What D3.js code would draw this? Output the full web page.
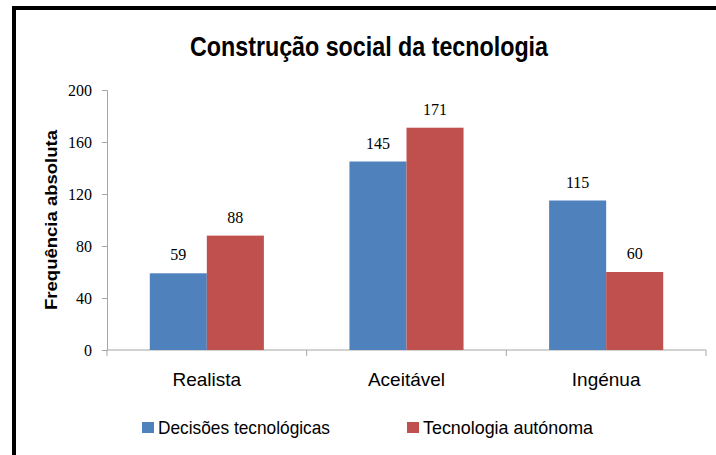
<!DOCTYPE html>
<html>
<head>
<meta charset="utf-8">
<script src="https://cdn.jsdelivr.net/npm/d3@7"></script>
<style>
  body { margin: 0; background: #fff; }
  svg { display: block; }
</style>
</head>
<body>
<svg id="chart"></svg>
<script>
const CATEGORIES = ["Realista", "Aceitável", "Ingénua"];
const SERIES = ["Decisões tecnológicas", "Tecnologia autónoma"];
const DECISOES = [59, 145, 115];
const AUTONOMA = [88, 171, 60];
const Y_TICKS = [0, 40, 80, 120, 160, 200];
const COLORS = ["#4F81BD", "#C0504D"];

const WIDTH = 716;
const HEIGHT = 455;
const SANS = "'Liberation Sans Narrow', 'Liberation Sans', sans-serif";
const SERIF = "'Liberation Serif', serif";

window.onload = function(){
    let svg = d3.select("#chart")
        .attr("width", WIDTH)
        .attr("height", HEIGHT);

    svg.append("rect")
        .attr("width", WIDTH).attr("height", HEIGHT)
        .attr("fill", "#fff");

    // outer frame (only top and left visible)
    svg.append("rect")
        .attr("x", 14).attr("y", 8)
        .attr("width", 760).attr("height", 520)
        .attr("fill", "none")
        .attr("stroke", "#000")
        .attr("stroke-width", 4);

    let xScale = d3.scaleBand()
        .domain(CATEGORIES)
        .range([107, 706])
        .paddingInner(0)
        .paddingOuter(0);

    // two bars per category, ~57px each, centred in a ~200px band
    let xSub = d3.scaleBand()
        .domain(SERIES)
        .range([0, xScale.bandwidth()])
        .paddingInner(0)
        .paddingOuter(0.75);

    let yScale = d3.scaleLinear()
        .domain([0, 200])
        .range([350, 90]);

    // title
    svg.append("text")
        .text("Construção social da tecnologia")
        .attr("x", 369).attr("y", 56)
        .attr("text-anchor", "middle")
        .attr("font-family", SANS)
        .attr("font-weight", "bold")
        .attr("font-size", "28px")
        .attr("textLength", 358)
        .attr("lengthAdjust", "spacingAndGlyphs")
        .attr("fill", "#000");

    // y axis
    let yAxis = d3.axisLeft(yScale)
        .tickValues(Y_TICKS)
        .tickSize(5)
        .tickPadding(10);
    let gy = svg.append("g")
        .attr("transform", "translate(107,0)")
        .call(yAxis);
    gy.select(".domain").attr("stroke", "#a6a6a6");
    gy.selectAll(".tick line").attr("stroke", "#a6a6a6");
    gy.selectAll(".tick text")
        .attr("font-family", SERIF)
        .attr("font-size", "16px")
        .attr("fill", "#000");

    // y label
    svg.append("text")
        .text("Frequência absoluta")
        .attr("transform", "translate(57,220) rotate(-90)")
        .attr("text-anchor", "middle")
        .attr("font-family", SANS)
        .attr("font-weight", "bold")
        .attr("font-size", "17px")
        .attr("textLength", 180)
        .attr("lengthAdjust", "spacingAndGlyphs")
        .attr("fill", "#000");

    // x axis
    let gx = svg.append("g")
        .attr("transform", "translate(0,350)");
    gx.append("line")
        .attr("x1", 107).attr("x2", 706)
        .attr("stroke", "#a6a6a6");
    gx.selectAll("line.tick")
        .data(CATEGORIES.concat(["end"]))
        .enter()
        .append("line")
        .attr("class", "tick")
        .attr("x1", function(d, i){ return i < CATEGORIES.length ? xScale(d) : xScale.range()[1]; })
        .attr("x2", function(d, i){ return i < CATEGORIES.length ? xScale(d) : xScale.range()[1]; })
        .attr("y1", 0).attr("y2", 6)
        .attr("stroke", "#a6a6a6");
    gx.selectAll("text")
        .data(CATEGORIES)
        .enter()
        .append("text")
        .text(function(d){ return d; })
        .attr("x", function(d){ return xScale(d) + xScale.bandwidth() / 2; })
        .attr("y", 36)
        .attr("text-anchor", "middle")
        .attr("font-family", SANS)
        .attr("font-size", "19px")
        .attr("fill", "#000");

    // bars
    let rows = [];
    CATEGORIES.forEach(function(c, i){
        rows.push({ cat: c, series: SERIES[0], value: DECISOES[i], color: COLORS[0] });
        rows.push({ cat: c, series: SERIES[1], value: AUTONOMA[i], color: COLORS[1] });
    });

    svg.selectAll("rect.bar")
        .data(rows)
        .enter()
        .append("rect")
        .attr("class", "bar")
        .attr("x", function(d){ return xScale(d.cat) + xSub(d.series); })
        .attr("y", function(d){ return yScale(d.value); })
        .attr("width", xSub.bandwidth())
        .attr("height", function(d){ return yScale(0) - yScale(d.value); })
        .attr("fill", function(d){ return d.color; });

    svg.selectAll("text.val")
        .data(rows)
        .enter()
        .append("text")
        .attr("class", "val")
        .text(function(d){ return d.value; })
        .attr("x", function(d){ return xScale(d.cat) + xSub(d.series) + xSub.bandwidth() / 2; })
        .attr("y", function(d){ return yScale(d.value) - 13; })
        .attr("text-anchor", "middle")
        .attr("font-family", SERIF)
        .attr("font-size", "16px")
        .attr("fill", "#000");

    // legend
    const LEGEND_X = [142, 407];
    const LEGEND_W = [172, 170];
    let lg = svg.selectAll("g.legend")
        .data(SERIES)
        .enter()
        .append("g")
        .attr("class", "legend")
        .attr("transform", function(d, i){ return "translate(" + LEGEND_X[i] + ",422)"; });
    lg.append("rect")
        .attr("width", 12).attr("height", 11)
        .attr("fill", function(d, i){ return COLORS[i]; });
    lg.append("text")
        .text(function(d){ return d; })
        .attr("x", 16).attr("y", 12)
        .attr("font-family", SANS)
        .attr("font-size", "19px")
        .attr("textLength", function(d, i){ return LEGEND_W[i]; })
        .attr("lengthAdjust", "spacingAndGlyphs")
        .attr("fill", "#000");
};
</script>
</body>
</html>
